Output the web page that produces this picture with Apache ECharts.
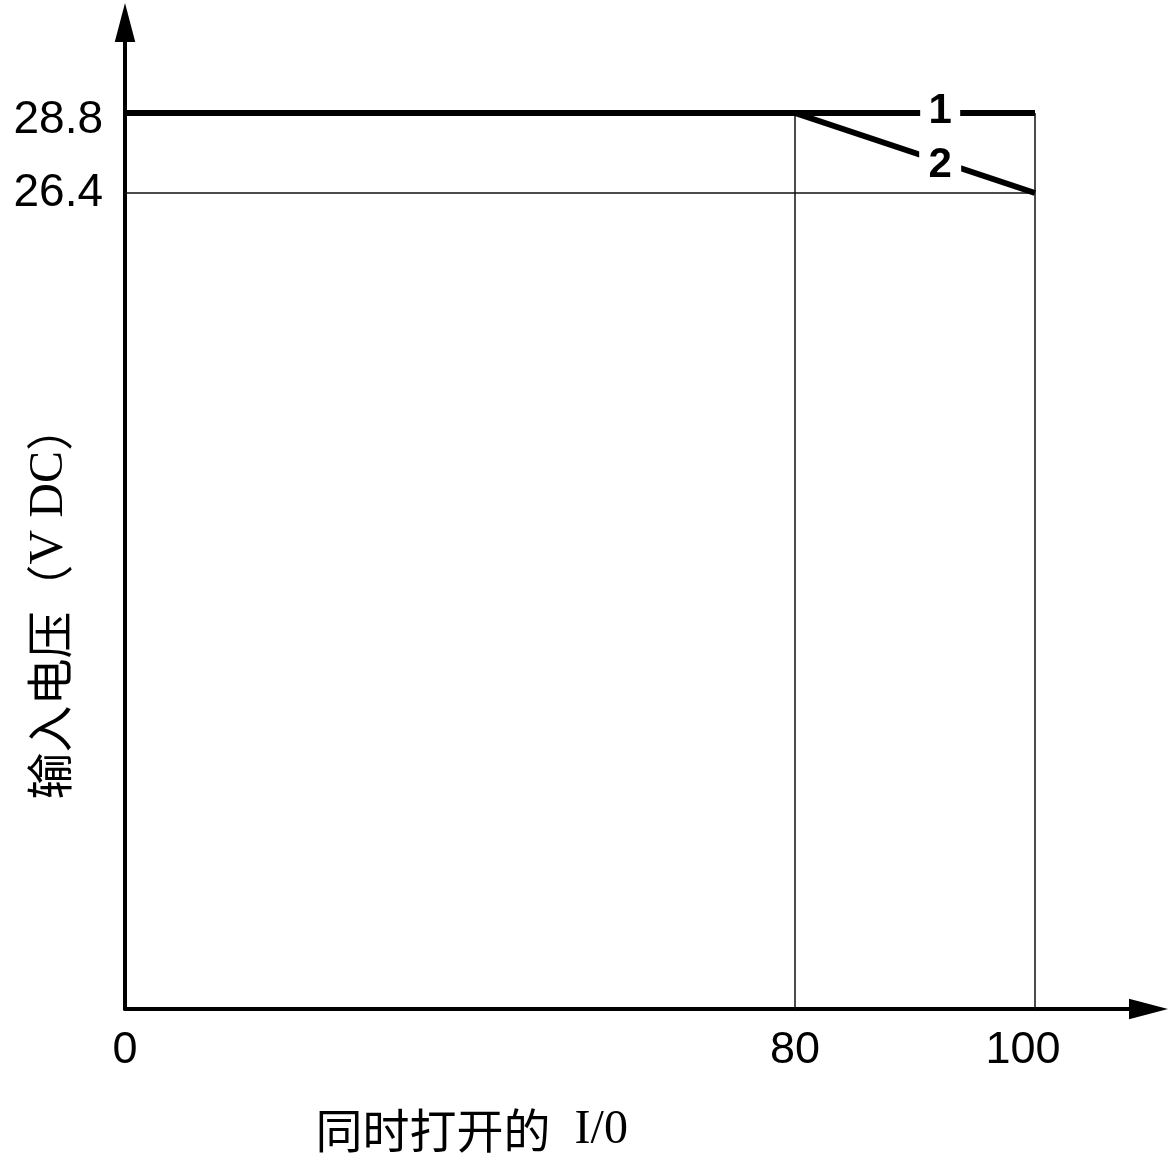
<!DOCTYPE html>
<html><head><meta charset="utf-8">
<script src="https://cdn.jsdelivr.net/npm/echarts@6/dist/echarts.min.js"></script>
<style>html,body{margin:0;padding:0;background:#fff}#c{width:1176px;height:1176px}</style>
</head><body><div id="c"></div>
<script>
// ---- data ----
const xTickValues = [0, 80, 100];
const yTickValues = [26.4, 28.8];
const curve1 = [[0, 28.8], [100, 28.8]];
const curve2 = [[80, 28.8], [100, 26.4]];
const curveNames = ['1', '2'];
const xName = '同时打开的';
const xNameLatin = 'I/0';
const yName = '输入电压';
const yNameUnit = 'V DC';

// ---- axis extents (layout) ----
const X_MIN = 0, X_MAX = 109.46;
const Y_MIN = 1.92, Y_MAX = 31.515;

const chart = echarts.init(document.getElementById('c'), null, {renderer: 'canvas'});
const black = '#000';
const guideStyle = {color: '#111', width: 1.5, type: 'solid'};
const arrowUp = 'path://M0,0 L10,38 L-10,38 Z';

const option = {
  animation: false,
  backgroundColor: '#fff',
  grid: {left: 125, right: 27.5, top: 22.5, bottom: 167, containLabel: false, outerBoundsMode: 'none'},
  xAxis: {
    type: 'value', min: X_MIN, max: X_MAX,
    breaks: [{start: 20, end: 44.17, gap: 0}],
    breakArea: {show: false},
    axisLine: {show: true, onZero: false, lineStyle: {color: black, width: 4},
      symbol: ['none', arrowUp], symbolSize: [21, 39]},
    axisTick: {show: false},
    splitLine: {show: false},
    axisLabel: {
      customValues: xTickValues, margin: 19, color: black, fontSize: 45,
      fontFamily: 'Liberation Sans',
      formatter: v => v === 100 ? '{s|100}' : String(v),
      rich: {s: {fontSize: 45, fontFamily: 'Liberation Sans', color: black, padding: [0, 24, 0, 0]}}
    },
    name: '{c|' + xName + '}{l|\u2002' + xNameLatin + '}',
    nameLocation: 'middle', nameGap: 97, nameMoveOverlap: false,
    nameTextStyle: {
      padding: [0, 330, 0, 0],
      rich: {
        c: {fontFamily: 'Noto Sans CJK SC', fontSize: 47, color: black},
        l: {fontFamily: 'Liberation Serif', fontSize: 48, color: black}
      }
    }
  },
  yAxis: {
    type: 'value', min: Y_MIN, max: Y_MAX,
    axisLine: {show: true, onZero: false, lineStyle: {color: black, width: 4},
      symbol: ['none', arrowUp], symbolSize: [21, 39]},
    axisTick: {show: false},
    splitLine: {show: false},
    axisLabel: {
      customValues: yTickValues, margin: 22, color: black, fontSize: 46,
      fontFamily: 'Liberation Sans',
      formatter: v => v === 28.8 ? '{t|28.8}' : v.toFixed(1),
      rich: {t: {fontSize: 46, fontFamily: 'Liberation Sans', color: black, padding: [14, 0, 0, 0]}}
    },
    name: '{c|' + yName + '（}{l|' + yNameUnit + '}{c|）}',
    nameLocation: 'middle', nameRotate: 90, nameGap: 52, nameMoveOverlap: false,
    nameTextStyle: {
      padding: [0, 172, 0, 0],
      rich: {
        c: {fontFamily: 'Noto Sans CJK SC', fontSize: 47, color: black},
        l: {fontFamily: 'Liberation Serif', fontSize: 48, color: black}
      }
    }
  },
  series: [
    {
      type: 'line', data: curve1, symbol: 'none', z: 3,
      lineStyle: {color: black, width: 6},
      markLine: {
        silent: true, symbol: ['none', 'none'], label: {show: false},
        lineStyle: guideStyle, z: 1,
        data: [
          [{coord: [curve2[0][0], curve1[0][1]]}, {coord: [curve2[0][0], Y_MIN]}],
          [{coord: [curve2[1][0], curve1[1][1]]}, {coord: [curve2[1][0], Y_MIN]}],
          [{coord: [0, curve2[1][1]]}, {coord: [curve2[1][0], curve2[1][1]]}]
        ]
      },
      markPoint: {
        silent: true, symbol: 'rect', symbolSize: [40, 36],
        itemStyle: {color: '#fff'},
        label: {show: true, formatter: curveNames[0], color: black, fontSize: 42,
          fontWeight: 'bold', fontFamily: 'Liberation Sans'},
        data: [{coord: [92.1, 28.85]}]
      }
    },
    {
      type: 'line', data: curve2, symbol: 'none', z: 3,
      lineStyle: {color: black, width: 6},
      markPoint: {
        silent: true, symbol: 'rect', symbolSize: [42, 36],
        itemStyle: {color: '#fff'},
        label: {show: true, formatter: curveNames[1], color: black, fontSize: 42,
          fontWeight: 'bold', fontFamily: 'Liberation Sans'},
        data: [{coord: [92.1, 27.22]}]
      }
    }
  ]
};
chart.setOption(option);
</script></body></html>
